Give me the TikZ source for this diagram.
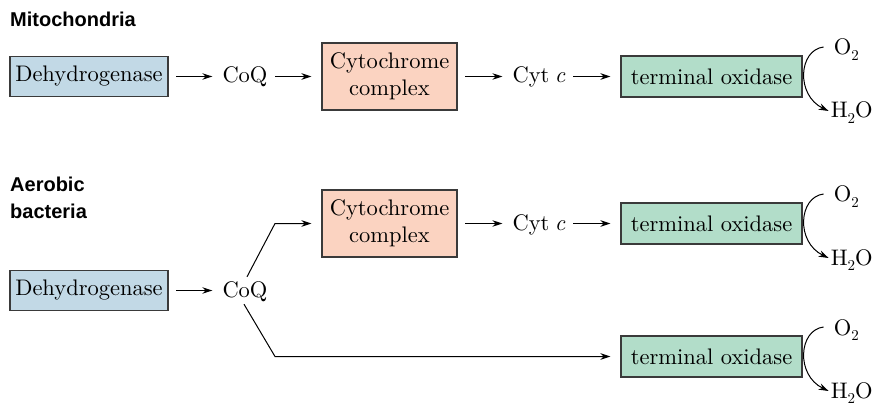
\documentclass[tikz,border=0pt]{standalone}
\usepackage{fontspec}
\setmainfont{lmroman10}[Extension=.otf, UprightFont=*-regular, ItalicFont=*-italic, BoldFont=*-bold]
\newfontfamily\hdfont{Liberation Sans}
\usetikzlibrary{arrows.meta}
\definecolor{dhblue}{HTML}{C2D9E6}
\definecolor{cypink}{HTML}{FBD3C1}
\definecolor{oxgreen}{HTML}{B2DDC9}
\definecolor{boxline}{HTML}{3A3A3A}
\newcommand{\subtwo}{\raisebox{-0.25em}{\fontsize{15}{15}\selectfont 2}}
\newcommand{\cytc}{Cyt\hspace{0.24em}\textit{c}}
\begin{document}
\begin{tikzpicture}[x=1pt,y=-1pt,
 txt/.style={font=\fontsize{22.5}{27}\selectfont},
 box/.style={txt, draw=boxline, line width=1.1pt, inner sep=0pt, align=center},
 dh/.style={box, fill=dhblue, minimum width=158pt, minimum height=40pt},
 cy/.style={box, fill=cypink, minimum width=135pt, minimum height=67pt},
 ox/.style={box, fill=oxgreen, minimum width=181pt, minimum height=41pt},
 lbl/.style={txt, inner sep=0pt, text height=16pt, text depth=3pt},
 small/.style={txt, inner sep=0pt, anchor=base west},
 head/.style={font=\hdfont\bfseries\fontsize{20}{27}\selectfont, inner sep=0pt, align=left},
 arr/.style={-{Stealth[length=10pt,width=6.5pt]}, line width=1pt},
 flow/.style={arr, shorten <=7.5pt, shorten >=10pt},
 branch/.style={arr, shorten >=10pt},
]
\useasboundingbox (0,0) rectangle (883,406);

% headings
\node[head, anchor=base west] (hm) at (10,27) {Mitochondria};
\node[head, anchor=north west] (hb) at (10,177) {Aerobic\\bacteria};

% row 1
\node[dh] (dh1) at (89,76.5) {Dehydrogenase};
\node[lbl] (coq1) at (245,76.5) {CoQ};
\node[cy] (cy1) at (389.5,76.5) {Cytochrome\\complex};
\node[lbl] (cc1) at (539,76.5) {\cytc};
\node[ox] (ox1) at (711.5,76.5) {terminal oxidase};
\draw[flow] (dh1) -- (coq1);
\draw[flow] (coq1) -- (cy1);
\draw[flow] (cy1) -- (cc1);
\draw[flow] (cc1) -- (ox1);

% row 2 / 3
\node[dh] (dh2) at (89,290.5) {Dehydrogenase};
\node[lbl] (coq2) at (245,290.5) {CoQ};
\node[cy] (cy2) at (389.5,223.5) {Cytochrome\\complex};
\node[lbl] (cc2) at (539,223.5) {\cytc};
\node[ox] (ox2) at (711.5,223.5) {terminal oxidase};
\node[ox] (ox3) at (711.5,356.5) {terminal oxidase};
\draw[flow] (dh2) -- (coq2);
\draw[flow] (cy2) -- (cc2);
\draw[flow] (cc2) -- (ox2);
\coordinate (up) at (275,223.5);
\coordinate (dn) at (275,356.5);
\draw[branch] ([shift={(2,-4)}]coq2.north) -- (up) -- (cy2.west);
\draw[branch] ([shift={(-1,4)}]coq2.south) -- (dn) -- (ox3.west);

% O2 / H2O on each oxidase
\foreach \b/\o/\h in {ox1/oa/ha, ox2/ob/hb2, ox3/oc/hc}{
  \node[small] (\o) at ([shift={(31,-21.5)}]\b.east) {O\subtwo};
  \node[small] (\h) at ([shift={(28,41.5)}]\b.east) {H\subtwo O};
  \draw[arr] ([shift={(21,-29.5)}]\b.east) .. controls ([shift={(-4,-26.5)}]\b.east) and ([shift={(-7,18.5)}]\b.east) .. ([shift={(26,34.5)}]\b.east);
}
\end{tikzpicture}
\end{document}
